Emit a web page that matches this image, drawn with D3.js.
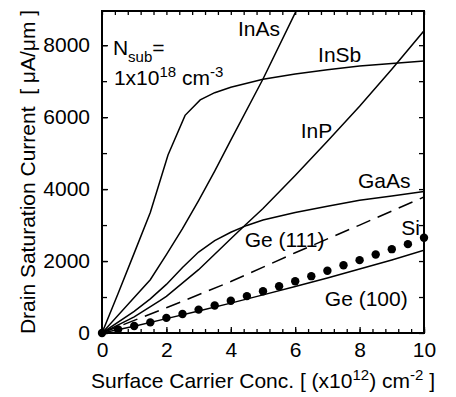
<!DOCTYPE html>
<html>
<head>
<meta charset="utf-8">
<script src="https://cdn.jsdelivr.net/npm/d3@7"></script>
<style>
  body { margin: 0; background: #fff; }
  svg { display: block; font-family: "Liberation Sans", Arial, sans-serif; }
  .axis text { font-size: 21px; fill: #000; }
  .axis line { stroke: #000; stroke-width: 1.3; }
  .lbl { font-size: 21px; fill: #000; }
</style>
</head>
<body>
<script>
// Drain saturation current vs surface carrier concentration, Nsub = 1e18 cm^-3.
// Values: [carrier conc (1e12 cm^-2), current (uA/um)].
var inSb = [[0,0],[0.5,1100],[1,2220],[1.5,3350],[2.05,4950],[2.58,6050],[3.05,6480],
            [3.5,6680],[4,6830],[5,7050],[6,7200],[7,7320],[8,7420],[9,7490],[10,7560]];
var inAs = [[0,0],[1,990],[1.5,1480],[2,2180],[2.5,2900],[3,3680],[3.5,4500],
            [4,5360],[5,7060],[6,8900],[6.03,8950]];
var inP  = [[0,0],[1,450],[1.8,900],[2,1020],[3,1760],[4,2620],[4.4,2960],[5,3460],
            [6,4380],[7,5330],[8,6300],[9,7330],[10,8400]];
var gaAs = [[0,0],[1,600],[1.5,950],[2,1350],[2.5,1820],[3,2250],[3.5,2570],[4,2800],
            [4.5,2990],[5,3140],[6,3350],[7,3520],[8,3690],[9,3810],[10,3930]];
var ge111 = [[0,0],[2,700],[4,1430],[6,2230],[8,3000],[10,3780]];
var ge100 = [[0,0],[1,190],[2,400],[3,610],[4,830],[5,1060],[6,1290],[7,1530],
             [8,1780],[9,2030],[10,2300]];
var si = [[0,0],[0.5,100],[1,195],[1.5,295],[2,420],[2.5,530],[3,650],[3.5,765],[4,895],
          [4.5,1025],[5,1160],[5.5,1300],[6,1440],[6.5,1580],[7,1730],[7.5,1885],
          [8,2025],[8.5,2180],[9,2330],[9.5,2470],[10,2650]];

var xTicks = [0, 2, 4, 6, 8, 10];
var yTicks = [0, 2000, 4000, 6000, 8000];
var xMinor = d3.range(0, 10.001, 0.4);
var yMinor = d3.range(0, 9000, 1000);

var width = 456, height = 397,
    margin = {top: 11, right: 32, bottom: 64, left: 102},
    w = width - margin.left - margin.right,
    h = height - margin.top - margin.bottom;

var svg = d3.select('body').append('svg')
    .attr('width', width)
    .attr('height', height);

var g = svg.append('g')
    .attr('transform', 'translate(' + margin.left + ',' + margin.top + ')');

var x = d3.scaleLinear().domain([0, 10]).range([0, w]);
var y = d3.scaleLinear().domain([0, 8950]).range([h, 0]);

// minor ticks on all four sides, pointing inward
g.append('g').attr('class', 'axis').attr('transform', 'translate(0,' + h + ')')
  .call(d3.axisBottom(x).tickValues(xMinor).tickSize(-4).tickFormat(''));
g.append('g').attr('class', 'axis')
  .call(d3.axisTop(x).tickValues(xMinor).tickSize(-4).tickFormat(''));
g.append('g').attr('class', 'axis')
  .call(d3.axisLeft(y).tickValues(yMinor).tickSize(-5).tickFormat(''));
g.append('g').attr('class', 'axis').attr('transform', 'translate(' + w + ',0)')
  .call(d3.axisRight(y).tickValues(yMinor).tickSize(-5).tickFormat(''));

// labelled axes
g.append('g').attr('class', 'axis').attr('transform', 'translate(0,' + h + ')')
  .call(d3.axisBottom(x).tickValues(xTicks).tickSize(-6).tickPadding(9).tickFormat(d3.format('d')));
g.append('g').attr('class', 'axis')
  .call(d3.axisLeft(y).tickValues(yTicks).tickSize(-6).tickPadding(12).tickFormat(d3.format('d')));
g.selectAll('.axis .domain').remove();

g.append('rect')
  .attr('width', w).attr('height', h)
  .attr('fill', 'none').attr('stroke', '#000').attr('stroke-width', 2);

g.append('clipPath').attr('id', 'clip')
  .append('rect').attr('width', w).attr('height', h);

var line = d3.line().x(function (d) { return x(d[0]); }).y(function (d) { return y(d[1]); });
var plot = g.append('g').attr('clip-path', 'url(#clip)');

[inSb, inAs, inP, gaAs, ge100].forEach(function (s) {
  plot.append('path').datum(s).attr('d', line)
    .attr('fill', 'none').attr('stroke', '#000').attr('stroke-width', 1.5);
});
plot.append('path').datum(ge111).attr('d', line)
  .attr('fill', 'none').attr('stroke', '#000').attr('stroke-width', 1.5)
  .attr('stroke-dasharray', '15,8');

g.selectAll('circle.si').data(si).enter().append('circle')
  .attr('class', 'si')
  .attr('cx', function (d) { return x(d[0]); })
  .attr('cy', function (d) { return y(d[1]); })
  .attr('r', 4.2).attr('fill', '#000');

// curve labels
function label(t, vx, vy) {
  g.append('text').attr('class', 'lbl').attr('x', x(vx)).attr('y', y(vy)).text(t);
}
label('InAs', 4.22, 8255);
label('InSb', 6.71, 7532);
label('InP', 6.17, 5420);
label('GaAs', 7.95, 4020);
label('Ge (111)', 4.43, 2399);
label('Si', 9.29, 2724);
label('Ge (100)', 6.92, 750);

var nsub = g.append('text').attr('class', 'lbl').attr('x', x(0.34)).attr('y', y(7727));
nsub.append('tspan').text('N');
nsub.append('tspan').attr('dy', 7).style('font-size', '15px').text('sub');
nsub.append('tspan').attr('dy', -7).text('=');

var conc = g.append('text').attr('class', 'lbl').attr('x', x(0.37)).attr('y', y(6893));
conc.append('tspan').text('1x10');
conc.append('tspan').attr('dy', -8).style('font-size', '15px').text('18');
conc.append('tspan').attr('dy', 8).text(' cm');
conc.append('tspan').attr('dy', -8).style('font-size', '15px').text('-3');

// axis titles
var xt = svg.append('text').attr('class', 'lbl')
  .attr('x', margin.left + w / 2).attr('y', 388).attr('text-anchor', 'middle');
xt.append('tspan').text('Surface Carrier Conc. [ (x10');
xt.append('tspan').attr('dy', -8).style('font-size', '15px').text('12');
xt.append('tspan').attr('dy', 8).text(') cm');
xt.append('tspan').attr('dy', -8).style('font-size', '15px').text('-2');
xt.append('tspan').attr('dy', 8).text(' ]');

svg.append('text').attr('class', 'lbl')
  .attr('transform', 'translate(35,172) rotate(-90)')
  .attr('text-anchor', 'middle')
  .style('white-space', 'pre')
  .text('Drain Saturation Current  [ \u03bcA/\u03bcm ]');
</script>
</body>
</html>
